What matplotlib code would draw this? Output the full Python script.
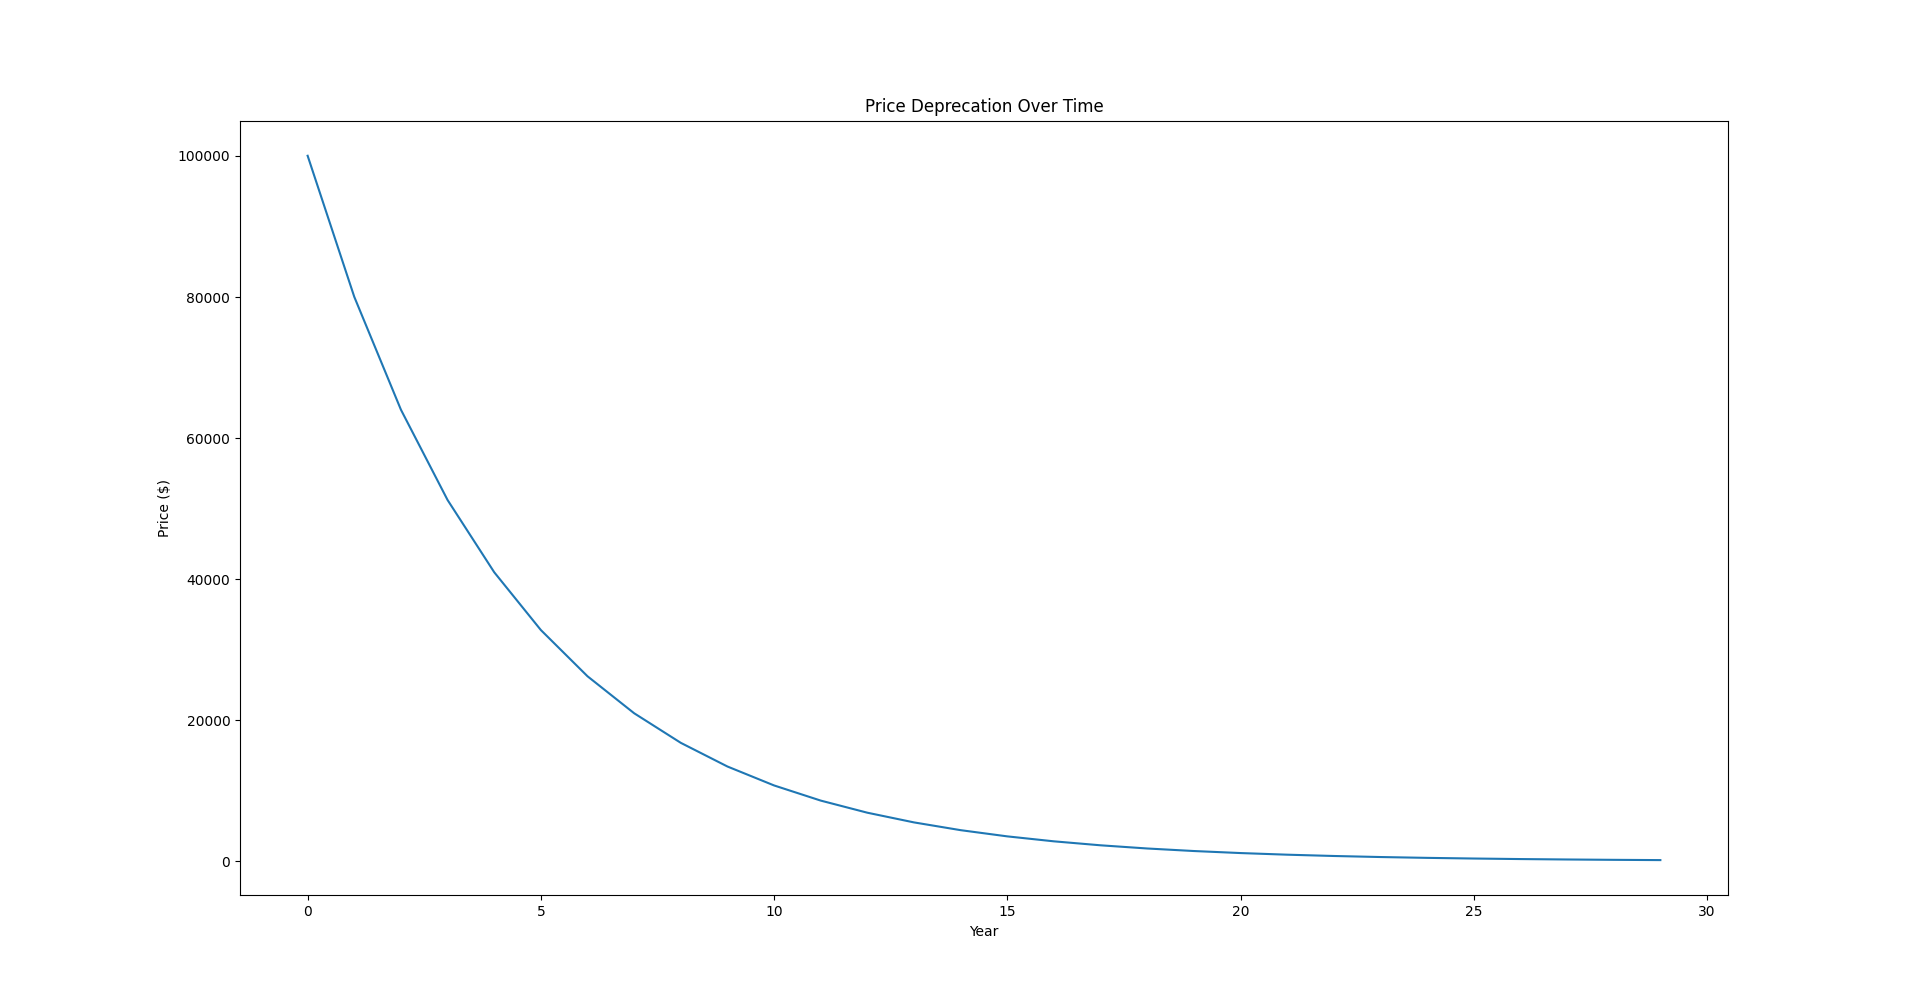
import matplotlib
matplotlib.use('Agg')
import matplotlib.pyplot as plt

# values
years = list(range(30))
prices = [100000, 80000, 64000, 51200, 40960, 32768, 26214, 20972, 16777, 13422,
          10737, 8590, 6872, 5498, 4398, 3518, 2815, 2252, 1801, 1441,
          1153, 922, 738, 590, 472, 378, 302, 242, 193, 155]

fig, ax = plt.subplots(figsize=(19.2, 10.062), dpi=100)
ax.plot(years, prices)
ax.set_title('Price Deprecation Over Time')
ax.set_xlabel('Year')
ax.set_ylabel('Price ($)')
fig.savefig('out.png', dpi=100)
